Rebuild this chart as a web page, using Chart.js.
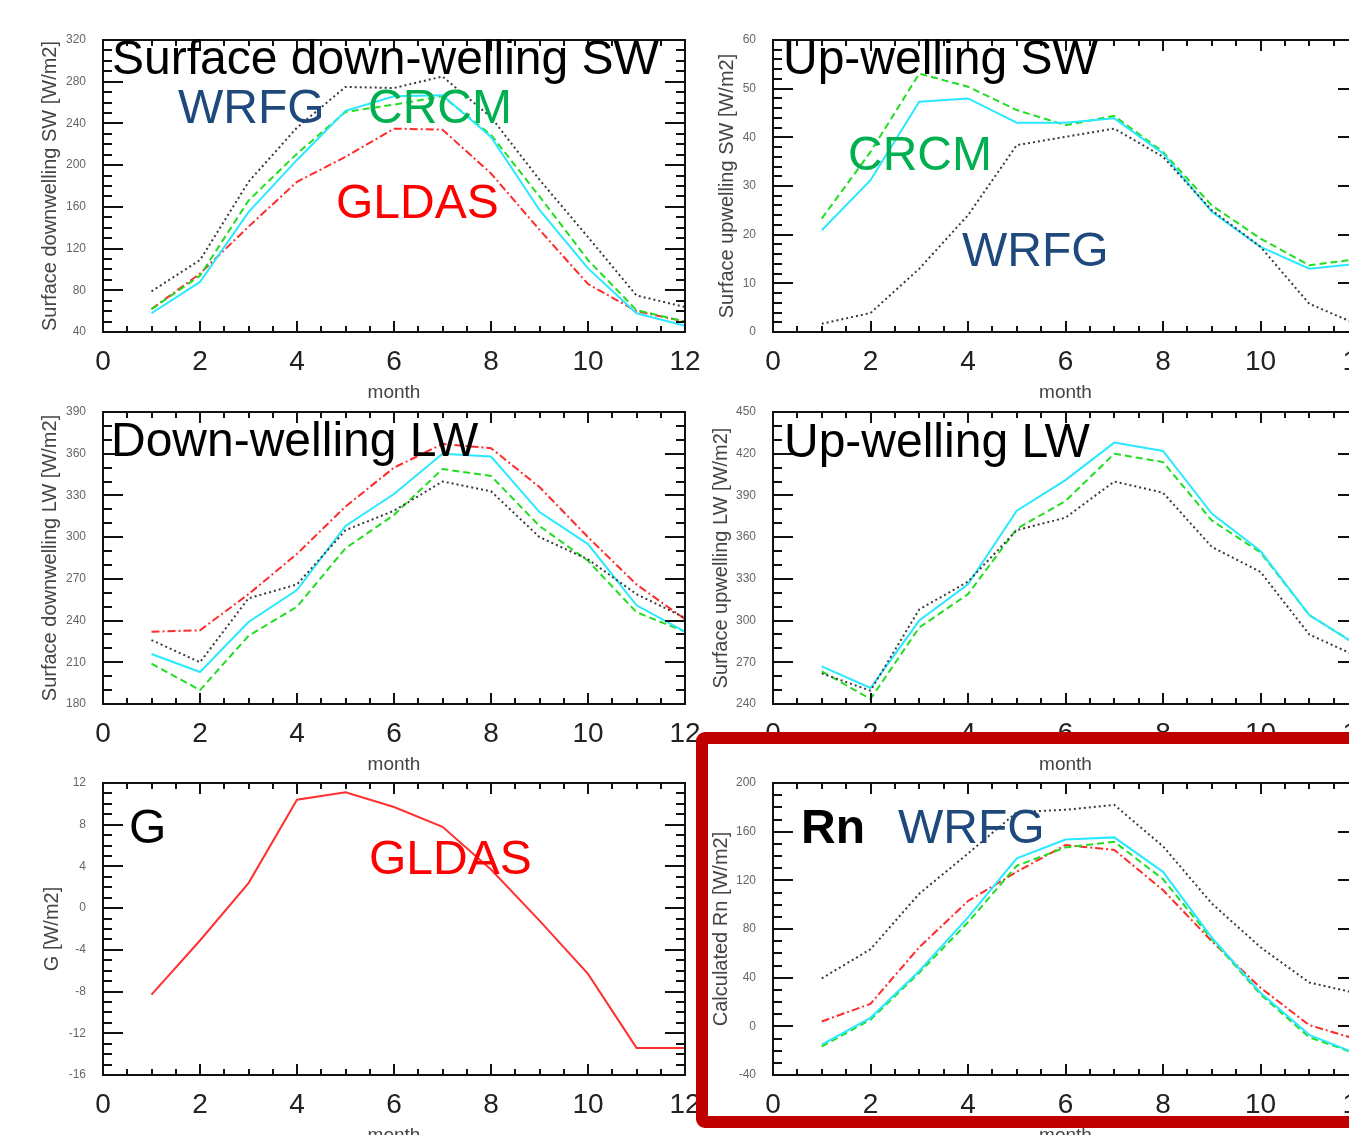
<!DOCTYPE html>
<html>
<head>
<meta charset="utf-8">
<script src="https://cdn.jsdelivr.net/npm/chart.js@4.4.1/dist/chart.umd.min.js"></script>
<style>
  html, body { margin: 0; padding: 0; background: #fff; overflow: hidden; }
  #page { position: relative; width: 1349px; height: 1135px; overflow: hidden; }
  #page canvas { position: absolute; }
  #box { position: absolute; left: 696px; top: 732px; width: 720px; height: 396px;
         border: 12px solid #c00000; border-radius: 9px; box-sizing: border-box; }
</style>
</head>
<body>
<div id="page">
  <canvas id="swDown" width="700" height="410" style="left:0;top:0"></canvas>
  <canvas id="swUp" width="700" height="410" style="left:690px;top:0"></canvas>
  <canvas id="lwDown" width="700" height="410" style="left:0;top:372px"></canvas>
  <canvas id="lwUp" width="700" height="410" style="left:690px;top:372px"></canvas>
  <canvas id="gFlux" width="700" height="410" style="left:0;top:743px"></canvas>
  <canvas id="rnCalc" width="700" height="410" style="left:690px;top:743px"></canvas>
  <div id="box"></div>
</div>
<script>
// monthly means
const months = [1, 2, 3, 4, 5, 6, 7, 8, 9, 10, 11, 12];

// surface down-welling SW
const swDownWRFG  = [79, 109, 184, 236, 275, 274, 285, 246, 186, 131, 75, 64];
const swDownCyan  = [58, 88, 155, 205, 252, 266, 267, 227, 157, 101, 58, 46];
const swDownCRCM  = [62, 94, 166, 211, 251, 258, 266, 229, 170, 109, 61, 50];
const swDownGLDAS = [62, 96, 141, 184, 208, 235, 234, 192, 138, 86, 60, 50];

// up-welling SW
const swUpWRFG = [1.7, 3.9, 13, 24, 38.4, 40.1, 41.8, 36, 25, 17.5, 5.8, 1.5];
const swUpCyan = [20.9, 31.2, 47.3, 48, 43, 43, 43.9, 36.7, 24.7, 17.5, 13, 14];
const swUpCRCM = [23.3, 37, 53.1, 50.4, 45.6, 42.5, 44.4, 37, 26, 19.2, 13.7, 15];

// down-welling LW
const lwDownWRFG  = [226, 210, 256, 266, 305, 319, 340, 333, 300, 284, 259, 242];
const lwDownCyan  = [216, 203, 239, 262, 308, 331, 360, 358, 318, 295, 251, 232];
const lwDownCRCM  = [209, 190, 229, 250, 292, 316, 349, 344, 308, 283, 246, 232];
const lwDownGLDAS = [232, 233, 259, 288, 322, 350, 367, 364, 336, 300, 266, 241];

// up-welling LW
const lwUpWRFG = [262, 249.6, 308, 328, 365, 374, 400, 392, 353, 335, 290, 274];
const lwUpCyan = [267, 251.5, 300, 326, 379, 401, 428, 422, 377, 350, 304, 282];
const lwUpCRCM = [263.5, 243.6, 295, 319, 366, 386, 420, 414, 372, 349, 304, 282];

// ground heat flux G
const gGLDAS = [-8.3, -3.1, 2.4, 10.4, 11.1, 9.7, 7.8, 3.7, -1.2, -6.3, -13.4, -13.4];

// calculated net radiation Rn
const rnWRFG  = [39.4, 63.4, 109, 142, 176, 178, 182, 148, 101, 65, 36, 27];
const rnCyan  = [-15, 7, 45.5, 89.6, 138, 153.6, 155.3, 127, 73, 27.6, -7, -23];
const rnCRCM  = [-16.6, 5.5, 44, 85.5, 132, 147, 151.7, 121, 71.7, 26.2, -9, -23];
const rnGLDAS = [4, 18.5, 65, 103, 127, 149, 145, 112, 70, 31.7, 1, -11];

Chart.defaults.font.family = "'Liberation Sans', Arial, Helvetica, sans-serif";

const STYLE = {
    WRFG:  { color: '#3a3a3a', dash: [2, 3] },
    cyan:  { color: '#2ae8ff', dash: [] },
    CRCM:  { color: '#22dd22', dash: [7, 4] },
    GLDAS: { color: '#ff2a2a', dash: [8, 3, 2, 3] },
    G:     { color: '#ff3030', dash: [] }
};

const BLUE = '#1f497d', GREEN = '#00b050', RED = '#ff0000';

// big overlay labels, offsets from the plot area corner
const panelNotes = {
    swDown: [
        { text: 'Surface down-welling SW', color: '#000', dx: 9, dy: 34 },
        { text: 'WRFG', color: BLUE, dx: 75, dy: 83 },
        { text: 'CRCM', color: GREEN, dx: 265, dy: 83 },
        { text: 'GLDAS', color: RED, dx: 233, dy: 178 }
    ],
    swUp: [
        { text: 'Up-welling SW', color: '#000', dx: 10, dy: 34 },
        { text: 'CRCM', color: GREEN, dx: 75, dy: 130 },
        { text: 'WRFG', color: BLUE, dx: 189, dy: 226 }
    ],
    lwDown: [{ text: 'Down-welling LW', color: '#000', dx: 8, dy: 44 }],
    lwUp: [{ text: 'Up-welling LW', color: '#000', dx: 11, dy: 45 }],
    gFlux: [
        { text: 'G', color: '#000', dx: 26, dy: 60 },
        { text: 'GLDAS', color: RED, dx: 266, dy: 91 }
    ],
    rnCalc: [
        { text: 'Rn', color: '#000', dx: 28, dy: 60, bold: true },
        { text: 'WRFG', color: BLUE, dx: 125, dy: 60 }
    ]
};

// box round the plot + inward major/minor ticks on all four sides
const framePlugin = {
    id: 'frame',
    afterDatasetsDraw(chart, args, o) {
        const { ctx, chartArea: a, scales: { x, y } } = chart;
        ctx.save();
        ctx.strokeStyle = '#111';
        ctx.lineWidth = 2;
        ctx.strokeRect(a.left, a.top, a.right - a.left, a.bottom - a.top);
        ctx.beginPath();
        for (let v = x.min; v <= x.max + 1e-9; v += 0.5) {
            const px = Math.round(x.getPixelForValue(v));
            const len = Math.abs(v % 2) < 1e-9 ? 11 : 6;
            ctx.moveTo(px, a.bottom); ctx.lineTo(px, a.bottom - len);
            ctx.moveTo(px, a.top); ctx.lineTo(px, a.top + len);
        }
        const step = y.options.ticks.stepSize;
        for (let v = y.min; v <= y.max + 1e-9; v += o.yMinor) {
            const py = Math.round(y.getPixelForValue(v));
            const k = (v - y.min) / step;
            const len = Math.abs(k - Math.round(k)) < 1e-6 ? 20 : 9;
            ctx.moveTo(a.left, py); ctx.lineTo(a.left + len, py);
            ctx.moveTo(a.right, py); ctx.lineTo(a.right - len, py);
        }
        ctx.stroke();
        ctx.restore();
    }
};

const notesPlugin = {
    id: 'notes',
    afterDraw(chart) {
        const { ctx, chartArea: a } = chart;
        const notes = panelNotes[chart.canvas.id] || [];
        ctx.save();
        ctx.textBaseline = 'alphabetic';
        notes.forEach(n => {
            ctx.font = (n.bold ? 'bold ' : '') + "48px 'Liberation Sans', Arial, sans-serif";
            ctx.fillStyle = n.color;
            ctx.fillText(n.text, a.left + n.dx, a.top + n.dy);
        });
        ctx.restore();
    }
};

function makePanel(id, p) {
    const datasets = p.series.map(s => ({
        label: s.name,
        data: months.map((m, i) => ({ x: m, y: s.values[i] })),
        borderColor: STYLE[s.name].color,
        borderDash: STYLE[s.name].dash,
        borderWidth: 2,
        pointRadius: 0,
        tension: 0,
        fill: false
    }));
    new Chart(document.getElementById(id), {
        type: 'line',
        data: { datasets },
        options: {
            responsive: false,
            animation: false,
            events: [],
            layout: { padding: { top: 40, right: p.padRight, left: 0, bottom: 0 } },
            plugins: {
                legend: { display: false },
                tooltip: { enabled: false },
                frame: { yMinor: p.yMinor }
            },
            scales: {
                x: {
                    type: 'linear', min: 0, max: 12,
                    grid: { display: false }, border: { display: false },
                    ticks: { stepSize: 2, padding: 5, color: '#222', font: { size: 28 }, maxRotation: 0, autoSkip: false },
                    title: { display: true, text: 'month', color: '#444', font: { size: 19 }, padding: { top: 0, bottom: 6 } },
                    afterFit: s => { s.height = 78; s.paddingLeft = 0; s.paddingRight = 0; }
                },
                y: {
                    min: p.yMin, max: p.yMax,
                    grid: { display: false }, border: { display: false },
                    ticks: { stepSize: p.yStep, padding: 9, color: '#666', font: { size: 12 }, autoSkip: false },
                    title: { display: true, text: p.yTitle, color: '#444', font: { size: 20 }, padding: { top: p.titlePad, bottom: 0 } },
                    afterFit: s => { s.width = p.axisWidth; s.paddingTop = 0; s.paddingBottom = 0; }
                }
            }
        },
        plugins: [framePlugin, notesPlugin]
    });
}

const LEFT = { axisWidth: 103, padRight: 15 };
const RIGHT = { axisWidth: 83, padRight: 32 };

makePanel('swDown', Object.assign({}, LEFT, {
    yMin: 40, yMax: 320, yStep: 40, yMinor: 10, titlePad: 38,
    yTitle: 'Surface downwelling SW [W/m2]',
    series: [
        { name: 'WRFG', values: swDownWRFG },
        { name: 'cyan', values: swDownCyan },
        { name: 'CRCM', values: swDownCRCM },
        { name: 'GLDAS', values: swDownGLDAS }
    ]
}));

makePanel('swUp', Object.assign({}, RIGHT, {
    yMin: 0, yMax: 60, yStep: 10, yMinor: 2, titlePad: 25,
    yTitle: 'Surface upwelling SW [W/m2]',
    series: [
        { name: 'WRFG', values: swUpWRFG },
        { name: 'cyan', values: swUpCyan },
        { name: 'CRCM', values: swUpCRCM }
    ]
}));

makePanel('lwDown', Object.assign({}, LEFT, {
    yMin: 180, yMax: 390, yStep: 30, yMinor: 10, titlePad: 38,
    yTitle: 'Surface downwelling LW [W/m2]',
    series: [
        { name: 'WRFG', values: lwDownWRFG },
        { name: 'cyan', values: lwDownCyan },
        { name: 'CRCM', values: lwDownCRCM },
        { name: 'GLDAS', values: lwDownGLDAS }
    ]
}));

makePanel('lwUp', Object.assign({}, RIGHT, {
    yMin: 240, yMax: 450, yStep: 30, yMinor: 10, titlePad: 19,
    yTitle: 'Surface upwelling LW [W/m2]',
    series: [
        { name: 'WRFG', values: lwUpWRFG },
        { name: 'cyan', values: lwUpCyan },
        { name: 'CRCM', values: lwUpCRCM }
    ]
}));

makePanel('gFlux', Object.assign({}, LEFT, {
    yMin: -16, yMax: 12, yStep: 4, yMinor: 1, titlePad: 40,
    yTitle: 'G [W/m2]',
    series: [{ name: 'G', values: gGLDAS }]
}));

makePanel('rnCalc', Object.assign({}, RIGHT, {
    yMin: -40, yMax: 200, yStep: 40, yMinor: 10, titlePad: 19,
    yTitle: 'Calculated Rn [W/m2]',
    series: [
        { name: 'WRFG', values: rnWRFG },
        { name: 'cyan', values: rnCyan },
        { name: 'CRCM', values: rnCRCM },
        { name: 'GLDAS', values: rnGLDAS }
    ]
}));
</script>
</body>
</html>
